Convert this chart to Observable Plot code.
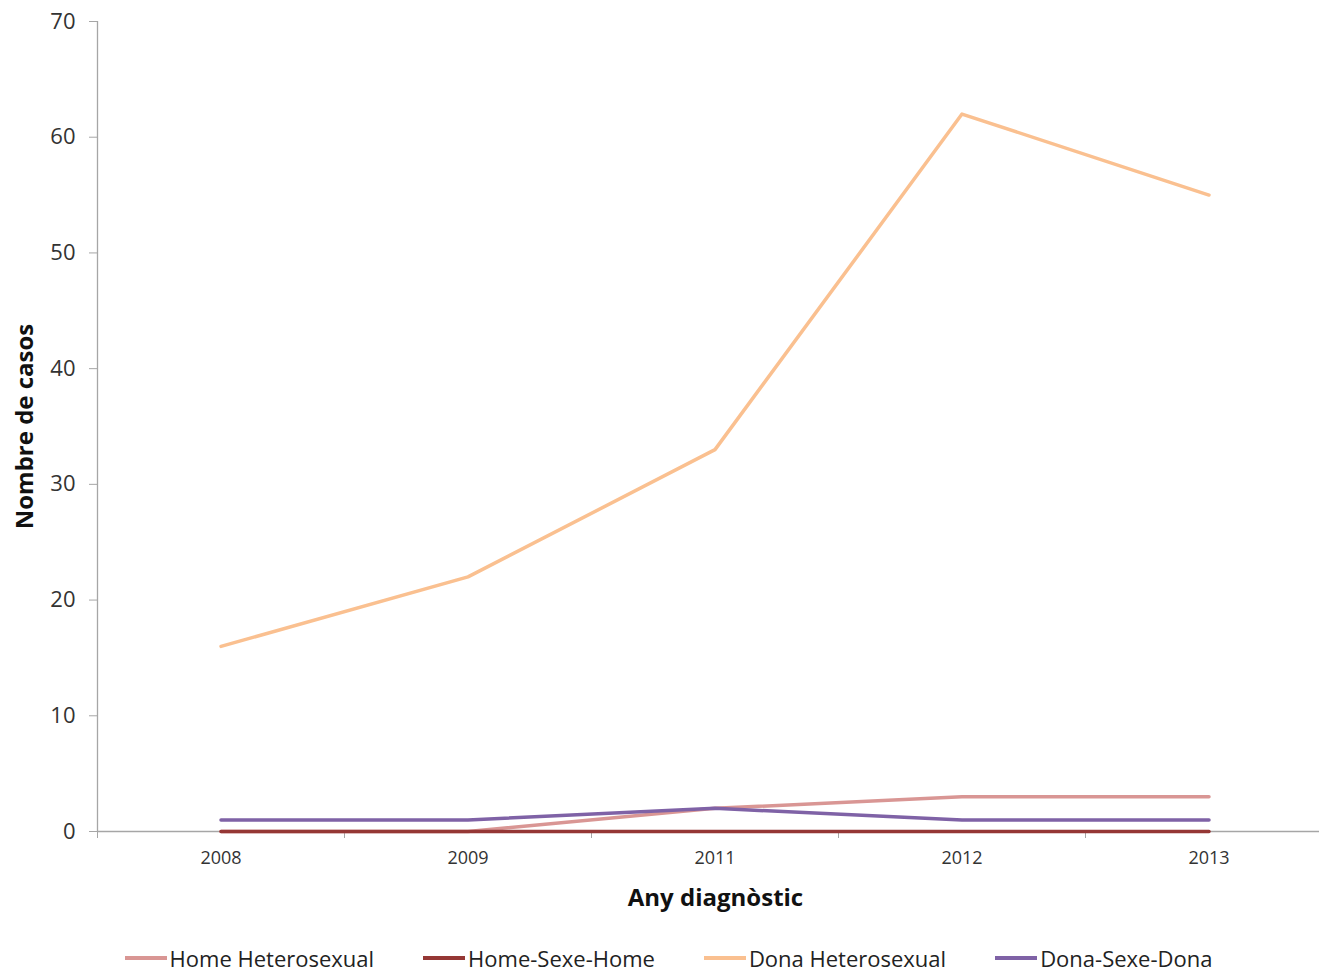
<!DOCTYPE html>
<html>
<head>
<meta charset="utf-8">
<script src="https://cdn.jsdelivr.net/npm/d3@7"></script>
<script src="https://cdn.jsdelivr.net/npm/@observablehq/plot@0.6"></script>
<style>
  html, body { margin: 0; padding: 0; background: #fff; }
  body { width: 1319px; height: 973px; overflow: hidden; font-family: "Open Sans", sans-serif; }
  #legend { display: flex; justify-content: center; align-items: center; gap: 49px; margin-top: 10px; padding-left: 18px; font-size: 22px; color: #222; line-height: 26px; height: 26px; }
  #legend .item { display: flex; align-items: center; white-space: nowrap; }
  #legend .sw { display: inline-block; width: 42px; height: 4px; margin-right: 3px; }
</style>
</head>
<body>
<div id="chart"></div>
<div id="legend"></div>
<script>
const years = ["2008", "2009", "2011", "2012", "2013"];
const seriesNames = ["Home Heterosexual", "Home-Sexe-Home", "Dona Heterosexual", "Dona-Sexe-Dona"];
const seriesColors = ["#d99694", "#953735", "#fac090", "#7f62a6"];
const homeHetero = [0, 0, 2, 3, 3];
const homeSexeHome = [0, 0, 0, 0, 0];
const donaHetero = [16, 22, 33, 62, 55];
const donaSexeDona = [1, 1, 2, 1, 1];
const yTicks = [0, 10, 20, 30, 40, 50, 60, 70];

const seriesValues = [homeHetero, homeSexeHome, donaHetero, donaSexeDona];
const rows = seriesNames.flatMap((name, s) =>
  years.map((yr, i) => ({series: name, idx: i, value: seriesValues[s][i]}))
);
const centers = years.map((_, i) => i);
const bounds = d3.range(years.length + 1).map(i => i - 0.5);

const axisGray = "#a6a6a6";
const chart = Plot.plot({
  width: 1319,
  height: 935,
  marginLeft: 97,
  marginRight: 0,
  marginTop: 21,
  marginBottom: 104,
  style: {fontFamily: "Open Sans, sans-serif", background: "#fff"},
  x: {type: "linear", domain: [-0.5, years.length - 0.5], range: [97, 1332]},
  y: {domain: [0, 70]},
  color: {domain: seriesNames, range: seriesColors},
  marks: [
    Plot.ruleX([-0.5], {stroke: axisGray, strokeWidth: 1.3}),
    Plot.ruleY([0], {stroke: axisGray, strokeWidth: 1.3}),
    Plot.axisY(yTicks, {tickSize: 8, tickPadding: 14, fontSize: 22, fill: "#333", stroke: axisGray, label: null}),
    Plot.axisX(bounds, {tickSize: 7, tickFormat: () => "", stroke: axisGray, label: null}),
    Plot.axisX(centers, {tickSize: 0, tickPadding: 20, fontSize: 18, fill: "#333", tickFormat: i => years[i], label: null}),
    ...seriesNames.map(name =>
      Plot.lineY(rows.filter(r => r.series === name), {x: "idx", y: "value", stroke: "series", strokeWidth: 3.5})
    ),
    Plot.text(["Any diagnòstic"], {frameAnchor: "bottom", dx: 7, dy: 74, fontSize: 24, fontWeight: "bold", fill: "#111"}),
    Plot.text(["Nombre de casos"], {frameAnchor: "left", textAnchor: "middle", rotate: -90, dx: -72, fontSize: 24, fontWeight: "bold", fill: "#111"})
  ]
});
document.getElementById("chart").appendChild(chart);

const legend = document.getElementById("legend");
seriesNames.forEach((name, i) => {
  const item = document.createElement("div");
  item.className = "item";
  const sw = document.createElement("span");
  sw.className = "sw";
  sw.style.background = seriesColors[i];
  const t = document.createElement("span");
  t.textContent = name;
  item.appendChild(sw);
  item.appendChild(t);
  legend.appendChild(item);
});
</script>
</body>
</html>
